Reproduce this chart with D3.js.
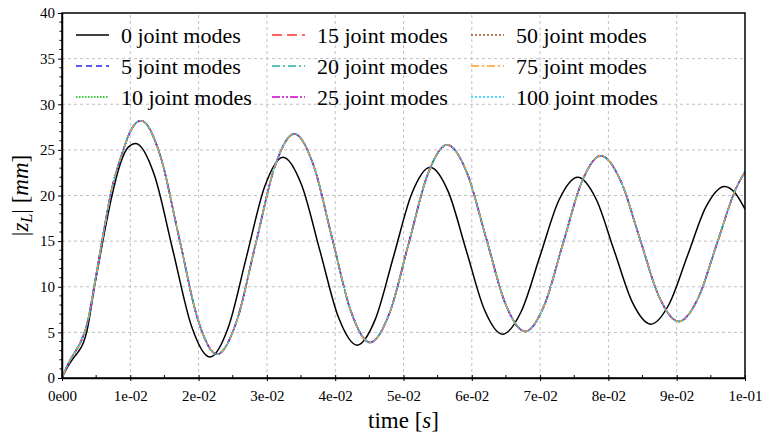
<!DOCTYPE html>
<html>
<head>
<meta charset="utf-8">
<script src="https://cdn.jsdelivr.net/npm/d3@7"></script>
</head>
<body style="margin:0">
<svg id="chart" width="762" height="437" font-family="Times New Roman"></svg>
<script>
// ---------------- data ----------------
const xTickValues = [0, 0.01, 0.02, 0.03, 0.04, 0.05, 0.06, 0.07, 0.08, 0.09, 0.1];
const xTickLabels = ["0e00", "1e-02", "2e-02", "3e-02", "4e-02", "5e-02", "6e-02", "7e-02", "8e-02", "9e-02", "1e-01"];
const yTickValues = [0, 5, 10, 15, 20, 25, 30, 35, 40];
const yTickLabels = ["0", "5", "10", "15", "20", "25", "30", "35", "40"];

const seriesNames = ["0 joint modes", "5 joint modes", "10 joint modes", "15 joint modes",
  "20 joint modes", "25 joint modes", "50 joint modes", "75 joint modes", "100 joint modes"];

// 0 joint modes (black)
const timeRigid = [0, 0.0008, 0.0017, 0.0025, 0.0031, 0.0036, 0.0048, 0.0060, 0.0072, 0.0085, 0.0097, 0.0108,
  0.01351, 0.01623, 0.01894, 0.02165,
  0.02433, 0.0270, 0.02968, 0.03236,
  0.03507, 0.03778, 0.04049, 0.0432,
  0.04588, 0.04855, 0.05123, 0.0539,
  0.05655, 0.0592, 0.06185, 0.0645,
  0.06725, 0.0700, 0.07275, 0.0755,
  0.07818, 0.08085, 0.08353, 0.0862,
  0.0889, 0.0916, 0.0943, 0.0970,
  0.0985, 0.1];
const zRigid = [0, 1.2, 2.2, 3.0, 3.8, 5.0, 10.2, 15.1, 19.6, 23.4, 25.3, 25.7,
  22.27, 14.0, 5.73, 2.3,
  5.51, 13.25, 20.99, 24.2,
  21.18, 13.9, 6.62, 3.6,
  6.45, 13.35, 20.25, 23.1,
  20.42, 13.95, 7.48, 4.8,
  7.32, 13.4, 19.48, 22.0,
  19.64, 13.95, 8.26, 5.9,
  8.11, 13.45, 18.79, 21.0,
  20.33, 18.5];

// 5 ... 100 joint modes (visually coincident)
const timeModes = [0, 0.0008, 0.0017, 0.0025, 0.0031, 0.0036, 0.0048, 0.0060, 0.0072, 0.0088, 0.0102, 0.01157,
  0.01435, 0.01714, 0.01992, 0.0227,
  0.02553, 0.02835, 0.03118, 0.0340,
  0.03678, 0.03955, 0.04233, 0.0451,
  0.04793, 0.05075, 0.05358, 0.0564,
  0.05925, 0.0621, 0.06495, 0.0678,
  0.07058, 0.07335, 0.07613, 0.0789,
  0.08175, 0.0846, 0.08745, 0.0903,
  0.0931, 0.0959, 0.0987, 0.1];
const zModes = [0, 1.4, 2.6, 3.6, 4.6, 5.7, 10.4, 15.6, 20.4, 24.6, 27.3, 28.2,
  24.45, 15.4, 6.35, 2.6,
  6.14, 14.68, 23.21, 26.75,
  23.4, 15.33, 7.25, 3.9,
  7.07, 14.73, 22.38, 25.55,
  22.56, 15.33, 8.09, 5.1,
  7.92, 14.73, 21.53, 24.35,
  21.69, 15.28, 8.86, 6.2,
  8.7, 14.75, 20.8, 22.6];

// ---------------- styles ----------------
const styles = [
  { color: "#000000", dash: null, width: 1.5 },
  { color: "#2424ee", dash: "6,4", width: 1.5 },
  { color: "#00b400", dash: "1.5,1.5", width: 1.5 },
  { color: "#ff3030", dash: "10,5", width: 1.5 },
  { color: "#20b2aa", dash: "8,3,2,3", width: 1.5 },
  { color: "#cc00cc", dash: "8,2,2,2,2,2", width: 1.5 },
  { color: "#a0522d", dash: "2,2", width: 1.5 },
  { color: "#ff9922", dash: "8,3,2,3", width: 1.5 },
  { color: "#22c8ff", dash: "2,2", width: 1.5 }
];

const FONT = "Times New Roman";
function serif(sel) { return sel.attr("font-family", FONT); }

const svg = d3.select("#chart");
const W = 762, H = 437;
const m = { left: 62, right: 17, top: 13, bottom: 59 };

const x = d3.scaleLinear().domain([0, 0.1]).range([m.left, W - m.right]);
const y = d3.scaleLinear().domain([0, 40]).range([H - m.bottom, m.top]);

svg.append("rect").attr("width", W).attr("height", H).attr("fill", "#fff");

svg.append("clipPath").attr("id", "clip").append("rect")
  .attr("x", x(0)).attr("y", y(40)).attr("width", x(0.1) - x(0)).attr("height", y(0) - y(40));

// grid
const grid = svg.append("g");
grid.selectAll("line.gx").data(xTickValues.slice(1, -1)).join("line")
  .attr("x1", d => x(d)).attr("x2", d => x(d)).attr("y1", y(0)).attr("y2", y(40))
  .attr("stroke", "#c0c0c0").attr("stroke-width", 1).attr("stroke-dasharray", "3,3");
grid.selectAll("line.gy").data(yTickValues.slice(1, -1)).join("line")
  .attr("x1", x(0)).attr("x2", x(0.1)).attr("y1", d => y(d)).attr("y2", d => y(d))
  .attr("stroke", "#c0c0c0").attr("stroke-width", 1).attr("stroke-dasharray", "3,3");

// lines
const line = d3.line().x(d => x(d[0])).y(d => y(d[1])).curve(d3.curveMonotoneX);
const rigidPts = timeRigid.map((t, i) => [t, zRigid[i]]);
const modePts = timeModes.map((t, i) => [t, zModes[i]]);
const gLines = svg.append("g").attr("clip-path", "url(#clip)");
seriesNames.forEach((name, i) => {
  const s = styles[i];
  gLines.append("path")
    .attr("d", line(i === 0 ? rigidPts : modePts))
    .attr("fill", "none")
    .attr("stroke", s.color)
    .attr("stroke-width", s.width)
    .attr("stroke-dasharray", s.dash);
});

// frame
svg.append("rect")
  .attr("x", x(0)).attr("y", y(40)).attr("width", x(0.1) - x(0)).attr("height", y(0) - y(40))
  .attr("fill", "none").attr("stroke", "#000").attr("stroke-width", 1.5);

// x axis
const xAxis = d3.axisBottom(x).tickValues(xTickValues)
  .tickFormat((d, i) => xTickLabels[i]).tickSizeInner(3).tickSizeOuter(0).tickPadding(9);
const gx = svg.append("g").attr("transform", `translate(0,${y(0)})`).call(xAxis);
gx.attr("font-family", FONT).attr("font-size", 15);
gx.select(".domain").attr("stroke", "#000").attr("stroke-width", 1.5);
gx.selectAll(".tick line").attr("y1", -3).attr("y2", 3).attr("stroke-width", 1);
serif(gx.selectAll(".tick text").attr("fill", "#000").attr("font-size", 15));
const xMinor = d3.range(0, 10).map(i => xTickValues[i] + 0.005);
gx.selectAll("line.minor").data(xMinor).join("line").attr("class", "minor")
  .attr("x1", d => x(d)).attr("x2", d => x(d)).attr("y1", 0).attr("y2", -3)
  .attr("stroke", "#000").attr("stroke-width", 1);

// y axis
const yAxis = d3.axisLeft(y).tickValues(yTickValues)
  .tickFormat((d, i) => yTickLabels[i]).tickSizeInner(4).tickSizeOuter(0).tickPadding(3);
const gy = svg.append("g").attr("transform", `translate(${x(0)},0)`).call(yAxis);
gy.attr("font-family", FONT).attr("font-size", 15);
gy.select(".domain").attr("stroke", "#000").attr("stroke-width", 1.5);
gy.selectAll(".tick line").attr("stroke-width", 1);
serif(gy.selectAll(".tick text").attr("fill", "#000").attr("font-size", 15));
const yMinor = d3.range(0, 41).filter(v => v % 5 !== 0);
gy.selectAll("line.minor").data(yMinor).join("line").attr("class", "minor")
  .attr("x1", 0).attr("x2", -2.5).attr("y1", d => y(d)).attr("y2", d => y(d))
  .attr("stroke", "#000").attr("stroke-width", 1);

// axis labels
const xl = serif(svg.append("text").attr("x", (x(0) + x(0.1)) / 2).attr("y", 428)
  .attr("text-anchor", "middle").attr("font-size", 23));
xl.append("tspan").text("time ");
xl.append("tspan").text("[");
xl.append("tspan").attr("font-style", "italic").text("s");
xl.append("tspan").text("]");

const yl = serif(svg.append("text")
  .attr("transform", `translate(28,${(y(0) + y(40)) / 2}) rotate(-90)`)
  .attr("text-anchor", "middle").attr("font-size", 23));
yl.append("tspan").text("|");
yl.append("tspan").attr("font-style", "italic").text("z");
yl.append("tspan").attr("font-style", "italic").attr("font-size", 16).attr("dy", 4).text("L");
yl.append("tspan").attr("dy", -4).text("| [");
yl.append("tspan").attr("font-style", "italic").text("mm");
yl.append("tspan").text("]");

// legend
const legCols = [76, 272, 471];
const legRows = [35, 66, 97];
seriesNames.forEach((name, i) => {
  const cx = legCols[Math.floor(i / 3)];
  const cy = legRows[i % 3];
  const s = styles[i];
  svg.append("line").attr("x1", cx).attr("x2", cx + 33).attr("y1", cy).attr("y2", cy)
    .attr("stroke", s.color).attr("stroke-width", s.width).attr("stroke-dasharray", s.dash);
  serif(svg.append("text").attr("x", cx + 45).attr("y", cy + 8).attr("font-size", 22)).text(name);
});
</script>
</body>
</html>
